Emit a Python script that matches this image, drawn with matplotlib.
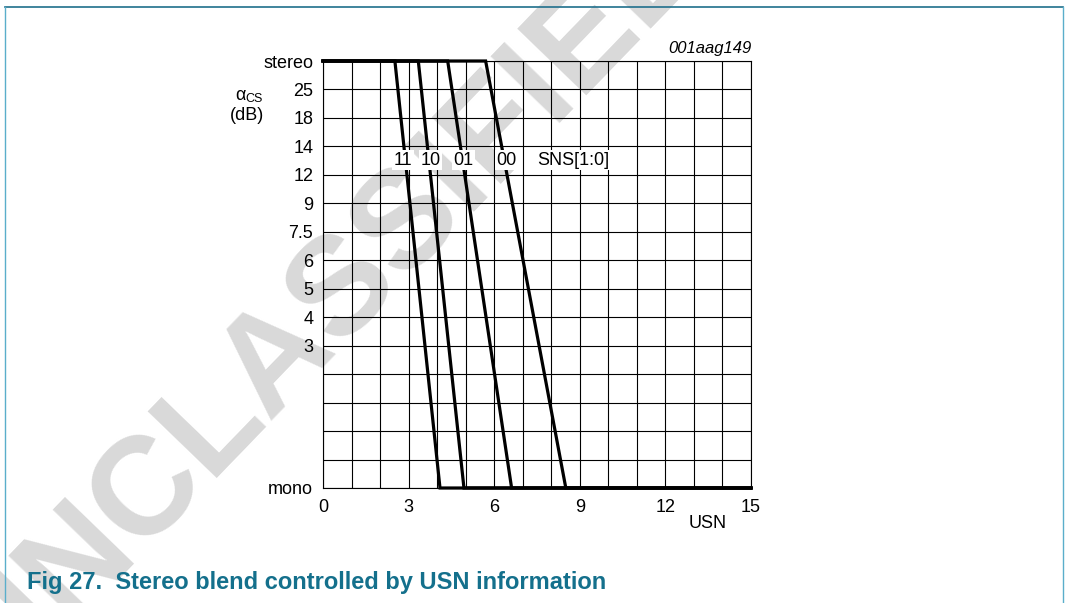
import matplotlib
matplotlib.use('Agg')
import matplotlib.pyplot as plt
from matplotlib.lines import Line2D

plt.rcParams['font.family'] = ['Liberation Sans', 'DejaVu Sans']

# SNS[1:0] settings and their USN break points
sns_codes = ['11', '10', '01', '00']
usn_blend_start = [2.52, 3.34, 4.37, 5.70]   # last USN with full stereo
usn_blend_end = [4.10, 4.94, 6.61, 8.51]     # first USN with full mono
sns_label_x = [2.81, 3.76, 4.92, 6.43]

# y axis: 16 levels from mono (0) to stereo (15)
y_tick_labels = ['mono', '', '', '', '', '3', '4', '5', '6', '7.5',
                 '9', '12', '14', '18', '25', 'stereo']
x_tick_labels = ['0', '', '', '3', '', '', '6', '', '', '9',
                 '', '', '12', '', '', '15']

fig = plt.figure(figsize=(10.65, 6.03), dpi=100)

# watermark behind everything
fig.text(330 / 1065, 1 - 300 / 603, 'UNCLASSIFIED', fontsize=100, fontweight='bold',
         color='#d9d9d9', rotation=46, ha='center', va='center', zorder=-1)

ax = fig.add_axes([323 / 1065, 1 - 488 / 603, 428 / 1065, 427 / 603])
ax.set_facecolor('none')
ax.set_xlim(0, 15)
ax.set_ylim(0, 15)
ax.set_xticks(range(16))
ax.set_xticklabels(x_tick_labels)
ax.set_yticks(range(16))
ax.set_yticklabels(y_tick_labels)
ax.tick_params(length=0, labelsize=13)
ax.tick_params(axis='y', pad=7)
ax.tick_params(axis='x', pad=8)
ax.grid(True, color='black', linewidth=0.8)
for s in ax.spines.values():
    s.set_linewidth(0.8)

for x0, x1 in zip(usn_blend_start, usn_blend_end):
    ax.plot([0, x0, x1, 15], [15, 15, 0, 0], color='black', linewidth=2.3,
            solid_joinstyle='miter', clip_on=False, zorder=3)

for code, lx in zip(sns_codes, sns_label_x):
    ax.text(lx, 11.52, code, fontsize=13, ha='center', va='center', zorder=4,
            bbox=dict(facecolor='white', edgecolor='none', pad=1.2))
ax.text(8.78, 11.52, 'SNS[1:0]', fontsize=13, ha='center', va='center', zorder=4,
        bbox=dict(facecolor='white', edgecolor='none', pad=1.2))

# axis labels and figure code
fig.text(240 / 1065, 1 - 96 / 603, '\u03b1', fontsize=13, ha='center', va='center')
fig.text(245 / 1065, 1 - 99 / 603, 'CS', fontsize=9, ha='left', va='center')
fig.text(247 / 1065, 1 - 116 / 603, '(dB)', fontsize=13, ha='center', va='center')
fig.text(708 / 1065, 1 - 524 / 603, 'USN', fontsize=13, ha='center', va='center')
fig.text(752 / 1065, 1 - 48 / 603, '001aag149', fontsize=12, style='italic',
         ha='right', va='center')

# caption
fig.text(27 / 1065, 1 - 583 / 603, 'Fig 27.  Stereo blend controlled by USN information',
         fontsize=17, fontweight='bold', color='#14708c', ha='left', va='center')

# frame
fig.add_artist(Line2D([5 / 1065, 1063 / 1065], [1 - 7 / 603, 1 - 7 / 603],
                      transform=fig.transFigure, color='#1f6f8b', linewidth=1.2))
fig.add_artist(Line2D([5 / 1065, 5 / 1065], [0, 1 - 7 / 603],
                      transform=fig.transFigure, color='#5aaecb', linewidth=1.0))
fig.add_artist(Line2D([1063 / 1065, 1063 / 1065], [0, 1 - 7 / 603],
                      transform=fig.transFigure, color='#5aaecb', linewidth=1.0))

fig.savefig('out.png', dpi=100)
